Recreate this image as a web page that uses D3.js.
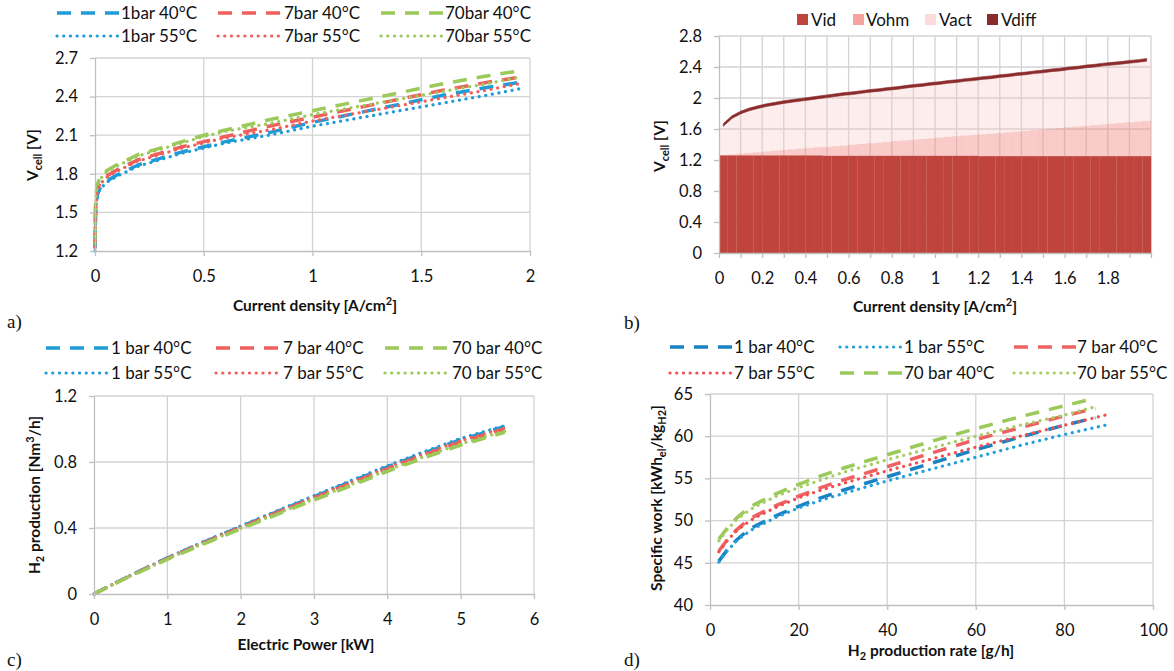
<!DOCTYPE html>
<html><head><meta charset="utf-8">
<script src="https://cdn.jsdelivr.net/npm/d3@7"></script>
<style>
body{margin:0;background:#fff;}
svg text{font-family:Lato,"Open Sans",sans-serif;}
</style></head><body>
<svg id="chart" width="1174" height="671"></svg>
<script>
// ---------------- DATA ----------------
// Panel a: cell voltage vs current density
const A_X = [0, 0.002, 0.005, 0.01, 0.02, 0.05, 0.1, 0.2, 0.3, 0.4, 0.5, 0.6, 0.8, 1.0, 1.2, 1.4, 1.6, 1.8, 1.95];
const A_1bar40  = [1.22, 1.45, 1.57, 1.63, 1.68, 1.74, 1.79, 1.87, 1.92, 1.97, 2.01, 2.05, 2.12, 2.20, 2.27, 2.34, 2.41, 2.47, 2.51];
const A_7bar40  = [1.25, 1.49, 1.61, 1.67, 1.72, 1.78, 1.83, 1.91, 1.96, 2.01, 2.05, 2.09, 2.17, 2.24, 2.31, 2.38, 2.45, 2.51, 2.55];
const A_70bar40 = [1.28, 1.53, 1.65, 1.71, 1.76, 1.82, 1.87, 1.95, 2.00, 2.05, 2.10, 2.14, 2.22, 2.29, 2.36, 2.43, 2.50, 2.56, 2.60];
const A_1bar55  = [1.20, 1.43, 1.55, 1.62, 1.67, 1.73, 1.78, 1.86, 1.91, 1.96, 2.00, 2.04, 2.10, 2.17, 2.23, 2.29, 2.35, 2.41, 2.46];
const A_7bar55  = [1.23, 1.47, 1.59, 1.66, 1.71, 1.77, 1.82, 1.90, 1.95, 2.00, 2.04, 2.08, 2.14, 2.21, 2.27, 2.33, 2.39, 2.45, 2.50];
const A_70bar55 = [1.26, 1.51, 1.63, 1.70, 1.75, 1.81, 1.86, 1.94, 1.99, 2.04, 2.09, 2.13, 2.19, 2.26, 2.32, 2.38, 2.44, 2.50, 2.55];
const A_XTICKS = [0, 0.5, 1, 1.5, 2];
const A_XLABELS = ["0", "0.5", "1", "1.5", "2"];
const A_YTICKS = [1.2, 1.5, 1.8, 2.1, 2.4, 2.7];
const A_YLABELS = ["1.2", "1.5", "1.8", "2.1", "2.4", "2.7"];

// Panel b: voltage breakdown (stacked) vs current density
const B_CAT = [0.02,0.06,0.10,0.14,0.18,0.22,0.26,0.30,0.34,0.38,0.42,0.46,0.50,0.54,0.58,0.62,0.66,0.70,0.74,0.78,
               0.82,0.86,0.90,0.94,0.98,1.02,1.06,1.10,1.14,1.18,1.22,1.26,1.30,1.34,1.38,1.42,1.46,1.50,1.54,1.58,
               1.62,1.66,1.70,1.74,1.78,1.82,1.86,1.90,1.94,1.98];
const B_VID = [1.26,1.26,1.26,1.26,1.26,1.26,1.26,1.26,1.26,1.26,1.26,1.26,1.255,1.255,1.255,1.255,1.255,1.255,1.255,1.255,
               1.255,1.255,1.255,1.255,1.255,1.255,1.255,1.255,1.255,1.255,1.25,1.25,1.25,1.25,1.25,1.25,1.25,1.25,1.25,1.25,
               1.25,1.25,1.25,1.25,1.25,1.25,1.25,1.25,1.25,1.25];
const B_VOHM = [0.005,0.014,0.023,0.032,0.041,0.051,0.060,0.069,0.078,0.087,0.097,0.106,0.115,0.124,0.133,0.143,0.152,0.161,0.170,0.179,
                0.189,0.198,0.207,0.216,0.225,0.235,0.244,0.253,0.262,0.271,0.281,0.290,0.299,0.308,0.317,0.327,0.336,0.345,0.354,0.363,
                0.373,0.382,0.391,0.400,0.409,0.419,0.428,0.437,0.446,0.455];
const B_VACT = [0.370,0.461,0.512,0.543,0.564,0.579,0.590,0.601,0.607,0.613,0.618,0.624,0.635,0.641,0.647,0.647,0.653,0.659,0.660,0.666,
                0.666,0.672,0.678,0.679,0.685,0.685,0.691,0.692,0.698,0.699,0.709,0.710,0.716,0.717,0.723,0.723,0.729,0.730,0.736,0.737,
                0.742,0.743,0.749,0.750,0.756,0.756,0.757,0.763,0.764,0.770];
const B_VDIFF = [0.035,0.035,0.035,0.035,0.035,0.035,0.035,0.035,0.035,0.035,0.035,0.035,0.035,0.035,0.035,0.035,0.035,0.035,0.035,0.035,
                 0.035,0.035,0.035,0.035,0.035,0.035,0.035,0.035,0.035,0.035,0.035,0.035,0.035,0.035,0.035,0.035,0.035,0.035,0.035,0.035,
                 0.035,0.035,0.035,0.035,0.035,0.035,0.035,0.035,0.035,0.035];
const B_KEYS = ["Vid", "Vohm", "Vact", "Vdiff"];
const B_XTICKS = [0,0.1,0.2,0.3,0.4,0.5,0.6,0.7,0.8,0.9,1.0,1.1,1.2,1.3,1.4,1.5,1.6,1.7,1.8,1.9,2.0];
const B_XLABELS = ["0","","0.2","","0.4","","0.6","","0.8","","1","","1.2","","1.4","","1.6","","1.8","",""];
const B_YTICKS = [0, 0.4, 0.8, 1.2, 1.6, 2.0, 2.4, 2.8];
const B_YLABELS = ["0", "0.4", "0.8", "1.2", "1.6", "2", "2.4", "2.8"];

// Panel c: H2 production vs electric power
const C_X = [0, 0.25, 0.5, 1, 1.5, 2, 2.5, 3, 3.5, 4, 4.5, 5, 5.6];
const C_1bar40  = [0, 0.058, 0.113, 0.218, 0.315, 0.408, 0.500, 0.590, 0.680, 0.770, 0.855, 0.935, 1.015];
const C_7bar40  = [0, 0.057, 0.111, 0.215, 0.310, 0.402, 0.493, 0.581, 0.670, 0.758, 0.842, 0.921, 1.000];
const C_70bar40 = [0, 0.056, 0.109, 0.210, 0.304, 0.394, 0.483, 0.569, 0.656, 0.743, 0.825, 0.902, 0.980];
const C_1bar55  = [0, 0.058, 0.114, 0.220, 0.318, 0.412, 0.505, 0.596, 0.687, 0.777, 0.862, 0.943, 1.020];
const C_7bar55  = [0, 0.057, 0.112, 0.217, 0.313, 0.406, 0.497, 0.587, 0.676, 0.765, 0.849, 0.929, 1.006];
const C_70bar55 = [0, 0.056, 0.110, 0.212, 0.307, 0.398, 0.487, 0.575, 0.662, 0.750, 0.832, 0.910, 0.987];
const C_XTICKS = [0, 1, 2, 3, 4, 5, 6];
const C_XLABELS = ["0", "1", "2", "3", "4", "5", "6"];
const C_YTICKS = [0, 0.4, 0.8, 1.2];
const C_YLABELS = ["0", "0.4", "0.8", "1.2"];

// Panel d: specific work vs H2 production rate
const D_X40  = [2, 4, 6, 8, 10, 15, 20, 25, 30, 40, 50, 60, 70, 80, 87];
const D_X55  = [2, 4, 6, 8, 10, 15, 20, 25, 30, 40, 50, 60, 70, 80, 90];
const D_X55g = [2, 4, 6, 8, 10, 15, 20, 25, 30, 40, 50, 60, 70, 80, 87];
const D_1bar40  = [45.2, 46.6, 47.7, 48.6, 49.3, 50.6, 51.7, 52.7, 53.6, 55.2, 56.8, 58.4, 59.9, 61.3, 62.2];
const D_1bar55  = [45.1, 46.5, 47.6, 48.4, 49.1, 50.4, 51.5, 52.4, 53.2, 54.7, 56.1, 57.5, 58.9, 60.2, 61.4];
const D_7bar40  = [46.4, 47.8, 48.9, 49.8, 50.5, 51.8, 52.9, 53.9, 54.8, 56.4, 58.0, 59.6, 61.0, 62.4, 63.3];
const D_7bar55  = [46.3, 47.7, 48.8, 49.6, 50.3, 51.6, 52.7, 53.6, 54.4, 55.9, 57.3, 58.7, 60.0, 61.3, 62.6];
const D_70bar40 = [47.8, 49.2, 50.3, 51.2, 51.9, 53.2, 54.3, 55.3, 56.2, 57.8, 59.4, 60.9, 62.3, 63.6, 64.5];
const D_70bar55 = [47.6, 49.0, 50.1, 50.9, 51.6, 52.9, 53.9, 54.8, 55.7, 57.2, 58.6, 60.0, 61.3, 62.5, 63.5];
const D_XTICKS = [0, 20, 40, 60, 80, 100];
const D_XLABELS = ["0", "20", "40", "60", "80", "100"];
const D_YTICKS = [40, 45, 50, 55, 60, 65];
const D_YLABELS = ["40", "45", "50", "55", "60", "65"];

// ---------------- STYLE ----------------
const FONT = 'Lato, "Open Sans", sans-serif';
const SERIF = '"Liberation Serif", "DejaVu Serif", serif';
const GRID = "#d3d3d3", AXIS = "#bfbfbf", TXT = "#111";
const BLUE = "#1f9bd7", RED = "#ef5f5b", GREEN = "#9bc95a";
const STY = {
  dash: {w: 3.5, da: "14,10", cap: "butt"},
  dot:  {w: 3.2, da: "0.1,6.6", cap: "round"}
};
const svg = d3.select("#chart");

function frame(cfg) {
  const g = svg.append("g");
  const x = d3.scaleLinear().domain(cfg.xDomain).range([cfg.left, cfg.right]);
  const y = d3.scaleLinear().domain(cfg.yDomain).range([cfg.bottom, cfg.top]);
  g.append("g").selectAll("line").data(cfg.yTicks.slice(1)).join("line")
    .attr("x1", cfg.left).attr("x2", cfg.right)
    .attr("y1", d => y(d)).attr("y2", d => y(d))
    .attr("stroke", GRID).attr("stroke-width", 1.3);
  g.append("g").selectAll("line").data(cfg.xGrid.slice(1)).join("line")
    .attr("y1", cfg.top).attr("y2", cfg.bottom)
    .attr("x1", d => x(d)).attr("x2", d => x(d))
    .attr("stroke", GRID).attr("stroke-width", 1.3);
  return {g, x, y};
}

function axes(P, cfg) {
  const ax = P.g.append("g").attr("transform", `translate(0,${cfg.bottom})`)
    .call(d3.axisBottom(P.x).tickValues(cfg.xTicks).tickSize(5).tickSizeOuter(0).tickPadding(14)
      .tickFormat((d, i) => cfg.xLabels[i]));
  const ay = P.g.append("g").attr("transform", `translate(${cfg.left},0)`)
    .call(d3.axisLeft(P.y).tickValues(cfg.yTicks).tickSize(5).tickSizeOuter(0).tickPadding(12)
      .tickFormat((d, i) => cfg.yLabels[i]));
  [ax, ay].forEach(a => {
    a.attr("font-family", FONT).attr("font-size", 16.5);
    a.select(".domain").attr("stroke", AXIS).attr("stroke-width", 1.3);
    a.selectAll(".tick line").attr("stroke", AXIS).attr("stroke-width", 1.3);
    a.selectAll(".tick text").attr("fill", TXT);
  });
}

function series(P, xs, ys, color, style) {
  const s = STY[style];
  P.g.append("path").datum(xs.map((v, i) => [v, ys[i]]))
    .attr("d", d3.line().x(d => P.x(d[0])).y(d => P.y(d[1])))
    .attr("fill", "none").attr("stroke", color).attr("stroke-width", s.w)
    .attr("stroke-dasharray", s.da).attr("stroke-linecap", s.cap);
}

function legendLine(item) {
  const s = STY[item.style];
  svg.append("line").attr("x1", item.x).attr("x2", item.x + 62).attr("y1", item.y).attr("y2", item.y)
    .attr("stroke", item.color).attr("stroke-width", s.w).attr("stroke-dasharray", s.da)
    .attr("stroke-linecap", s.cap);
  svg.append("text").attr("x", item.tx).attr("y", item.y).attr("dy", "0.35em")
    .attr("font-size", 17).attr("fill", TXT).text(item.label);
}

function xTitle(cx, y, parts) {
  const t = svg.append("text").attr("x", cx).attr("y", y).attr("text-anchor", "middle")
    .attr("font-size", 15.5).attr("font-weight", "bold").attr("fill", TXT);
  addParts(t, parts);
}
function yTitle(cx, cy, parts) {
  const t = svg.append("text").attr("transform", `translate(${cx},${cy}) rotate(-90)`)
    .attr("text-anchor", "middle").attr("dy", "0.35em")
    .attr("font-size", 15.5).attr("font-weight", "bold").attr("fill", TXT);
  addParts(t, parts);
}
function addParts(t, parts) {
  let shift = 0;
  parts.forEach(p => {
    const target = p.sub ? 4 : (p.sup ? -6 : 0);
    const ts = t.append("tspan").text(p.t).attr("dy", target - shift);
    if (p.sub || p.sup) ts.attr("font-size", 11);
    shift = target;
  });
}
function panelLabel(x, y, s) {
  svg.append("text").attr("x", x).attr("y", y).attr("font-family", SERIF)
    .attr("font-size", 19).attr("fill", TXT).style("font-family", SERIF).text(s);
}

// ---------------- PANEL A ----------------
const cfgA = {left: 95, right: 530, top: 58, bottom: 251, xDomain: [0, 2], yDomain: [1.2, 2.7],
  xTicks: A_XTICKS, xGrid: A_XTICKS, xLabels: A_XLABELS, yTicks: A_YTICKS, yLabels: A_YLABELS};
const PA = frame(cfgA);
series(PA, A_X, A_1bar40, BLUE, "dash");
series(PA, A_X, A_7bar40, RED, "dash");
series(PA, A_X, A_70bar40, GREEN, "dash");
series(PA, A_X, A_1bar55, BLUE, "dot");
series(PA, A_X, A_7bar55, RED, "dot");
series(PA, A_X, A_70bar55, GREEN, "dot");
axes(PA, cfgA);
[
  {label: "1bar 40°C", color: BLUE, style: "dash", x: 57, tx: 121, y: 13},
  {label: "7bar 40°C", color: RED, style: "dash", x: 218, tx: 284, y: 13},
  {label: "70bar 40°C", color: GREEN, style: "dash", x: 381, tx: 445, y: 13},
  {label: "1bar 55°C", color: BLUE, style: "dot", x: 57, tx: 121, y: 36},
  {label: "7bar 55°C", color: RED, style: "dot", x: 218, tx: 284, y: 36},
  {label: "70bar 55°C", color: GREEN, style: "dot", x: 381, tx: 445, y: 36}
].forEach(legendLine);
xTitle(315, 311, [{t: "Current density [A/cm"}, {t: "2", sup: true}, {t: "]"}]);
yTitle(38, 155, [{t: "V"}, {t: "cell", sub: true}, {t: " [V]"}]);
panelLabel(7, 328, "a)");

// ---------------- PANEL B ----------------
const cfgB = {left: 719, right: 1151, top: 36, bottom: 253, xDomain: [0, 2], yDomain: [0, 2.8],
  xTicks: B_XTICKS, xGrid: B_XTICKS, xLabels: B_XLABELS, yTicks: B_YTICKS, yLabels: B_YLABELS};
const PB = frame(cfgB);
const bRows = B_CAT.map((c, i) => ({c: c, Vid: B_VID[i], Vohm: B_VOHM[i], Vact: B_VACT[i], Vdiff: B_VDIFF[i]}));
const bStack = d3.stack().keys(B_KEYS)(bRows);
const bw = PB.x(B_CAT[1]) - PB.x(B_CAT[0]);
const bFill = {Vid: "#c0443e", Vohm: "#f28e8a", Vact: "#f9c6c4", Vdiff: "#8b2b2b"};
const bOpac = {Vid: 1, Vohm: 0.45, Vact: 0.3};
bStack.slice(0, 3).forEach(layer => {
  PB.g.append("g").selectAll("rect").data(layer).join("rect")
    .attr("x", d => PB.x(d.data.c) - bw / 2).attr("width", bw + 0.2)
    .attr("y", d => PB.y(d[1])).attr("height", d => PB.y(d[0]) - PB.y(d[1]))
    .attr("fill", bFill[layer.key]).attr("fill-opacity", bOpac[layer.key]);
});
PB.g.append("path").datum(bStack[3])
  .attr("d", d3.area().x(d => PB.x(d.data.c)).y0(d => PB.y(d[0])).y1(d => PB.y(d[1])))
  .attr("fill", bFill.Vdiff).attr("stroke", bFill.Vdiff).attr("stroke-width", 0.6);
axes(PB, cfgB);
const bLeg = [
  {key: "Vid", sx: 797, tx: 811, col: "#c0443e"},
  {key: "Vohm", sx: 853, tx: 866, col: "#f6a3a0"},
  {key: "Vact", sx: 925, tx: 939, col: "#fcdcdb"},
  {key: "Vdiff", sx: 987, tx: 1001, col: "#8b2b2b"}
];
bLeg.forEach(l => {
  svg.append("rect").attr("x", l.sx).attr("y", 14).attr("width", 11).attr("height", 11).attr("fill", l.col);
  svg.append("text").attr("x", l.tx).attr("y", 20).attr("dy", "0.35em").attr("font-size", 17)
    .attr("fill", TXT).text(l.key);
});
xTitle(935, 312, [{t: "Current density [A/cm"}, {t: "2", sup: true}, {t: "]"}]);
yTitle(665, 146, [{t: "V"}, {t: "cell", sub: true}, {t: " [V]"}]);
panelLabel(624, 329, "b)");

// ---------------- PANEL C ----------------
const cfgC = {left: 94, right: 534, top: 396, bottom: 594, xDomain: [0, 6], yDomain: [0, 1.2],
  xTicks: C_XTICKS, xGrid: C_XTICKS, xLabels: C_XLABELS, yTicks: C_YTICKS, yLabels: C_YLABELS};
const PC = frame(cfgC);
series(PC, C_X, C_1bar40, BLUE, "dash");
series(PC, C_X, C_1bar55, BLUE, "dot");
series(PC, C_X, C_7bar40, RED, "dash");
series(PC, C_X, C_7bar55, RED, "dot");
series(PC, C_X, C_70bar40, GREEN, "dash");
series(PC, C_X, C_70bar55, GREEN, "dot");
axes(PC, cfgC);
[
  {label: "1 bar 40°C", color: BLUE, style: "dash", x: 46, tx: 111, y: 348},
  {label: "7 bar 40°C", color: RED, style: "dash", x: 216, tx: 283, y: 348},
  {label: "70 bar 40°C", color: GREEN, style: "dash", x: 385, tx: 452, y: 348},
  {label: "1 bar 55°C", color: BLUE, style: "dot", x: 46, tx: 111, y: 373},
  {label: "7 bar 55°C", color: RED, style: "dot", x: 216, tx: 283, y: 373},
  {label: "70 bar 55°C", color: GREEN, style: "dot", x: 385, tx: 452, y: 373}
].forEach(legendLine);
xTitle(306, 650, [{t: "Electric Power [kW]"}]);
yTitle(40, 495, [{t: "H"}, {t: "2", sub: true}, {t: " production [Nm"}, {t: "3", sup: true}, {t: "/h]"}]);
panelLabel(7, 666, "c)");

// ---------------- PANEL D ----------------
const cfgD = {left: 710, right: 1153, top: 394, bottom: 605, xDomain: [0, 100], yDomain: [40, 65],
  xTicks: D_XTICKS, xGrid: D_XTICKS, xLabels: D_XLABELS, yTicks: D_YTICKS, yLabels: D_YLABELS};
const PD = frame(cfgD);
series(PD, D_X40, D_1bar40, "#1a82c2", "dash");
series(PD, D_X55, D_1bar55, "#22a0dc", "dot");
series(PD, D_X40, D_7bar40, "#ef6262", "dash");
series(PD, D_X55, D_7bar55, "#f05050", "dot");
series(PD, D_X40, D_70bar40, GREEN, "dash");
series(PD, D_X55g, D_70bar55, "#a5cd63", "dot");
axes(PD, cfgD);
[
  {label: "1 bar 40°C", color: "#1a82c2", style: "dash", x: 670, tx: 734, y: 347},
  {label: "1 bar 55°C", color: "#22a0dc", style: "dot", x: 840, tx: 904, y: 347},
  {label: "7 bar 40°C", color: "#ef6262", style: "dash", x: 1014, tx: 1077, y: 347},
  {label: "7 bar 55°C", color: "#f05050", style: "dot", x: 670, tx: 734, y: 373},
  {label: "70 bar 40°C", color: GREEN, style: "dash", x: 840, tx: 904, y: 373},
  {label: "70 bar 55°C", color: "#a5cd63", style: "dot", x: 1014, tx: 1077, y: 373}
].forEach(legendLine);
xTitle(931, 656, [{t: "H"}, {t: "2", sub: true}, {t: " production rate [g/h]"}]);
yTitle(662, 498, [{t: "Specific work [kWh"}, {t: "el", sub: true}, {t: "/kg"}, {t: "H2", sub: true}, {t: "]"}]);
panelLabel(624, 666, "d)");
</script>
</body></html>
